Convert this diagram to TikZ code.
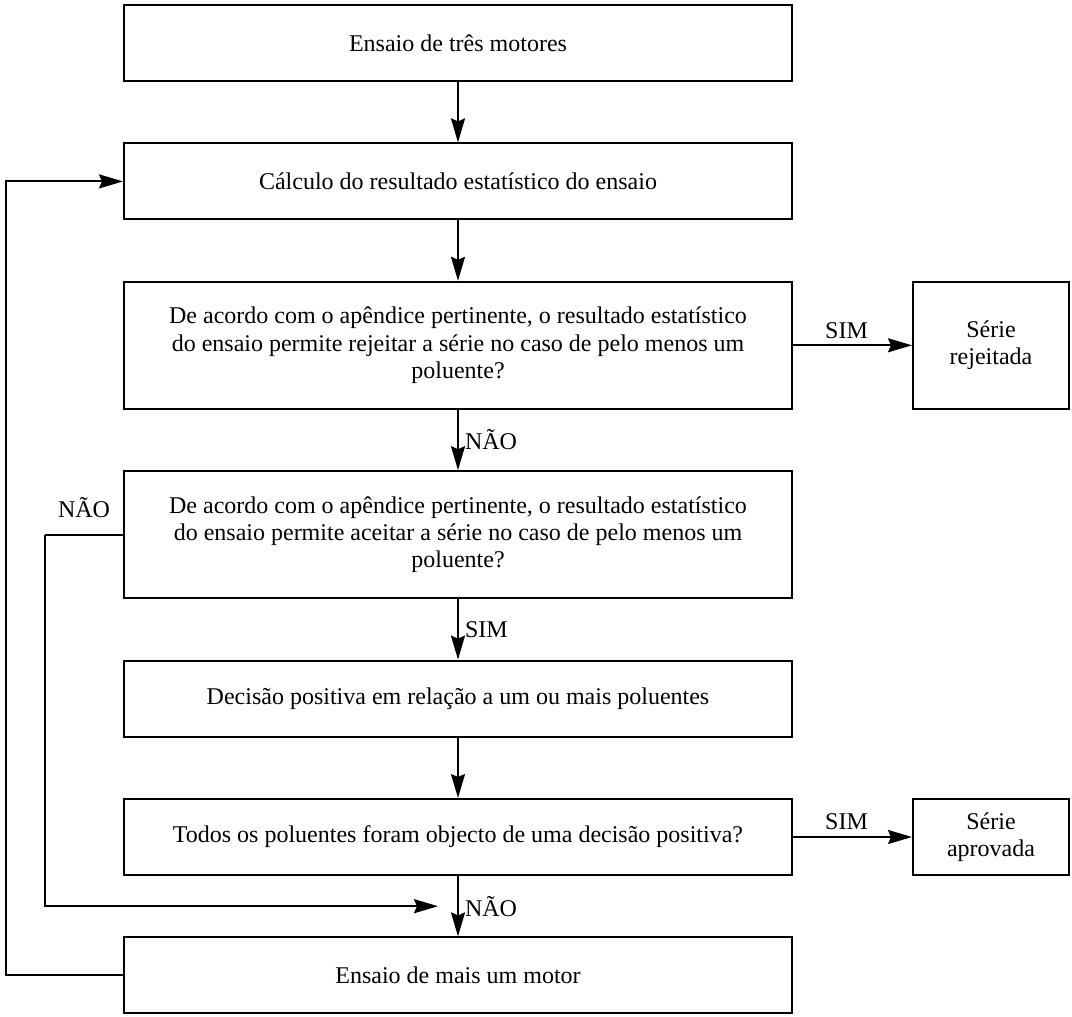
\documentclass[tikz,border=0pt]{standalone}
\usepackage{fontspec}
\setmainfont{Liberation Serif}
\usetikzlibrary{positioning,arrows.meta,calc}

\begin{document}
\begin{tikzpicture}[font=\fontsize{12}{13.7}\selectfont, node distance=30.2pt and 59.5pt,
  box/.style={draw, line width=1pt, align=center, minimum width=334pt, minimum height=38pt, inner sep=2pt},
  tall/.style={box, minimum height=63.5pt},
  side/.style={draw, line width=1pt, align=center, minimum width=78pt},
  arr/.style={line width=1pt, -{Stealth[length=12pt, width=7pt, inset=1.5pt]}},
  lbl/.style={inner sep=3pt}]
\useasboundingbox (0,0) rectangle (536pt,-508.5pt);
\node[box] (b1) at (229pt,-21.5pt) {Ensaio de três motores};
\node[box, below=of b1] (b2) {Cálculo do resultado estatístico do ensaio};
\node[tall, below=of b2] (b3) {De acordo com o apêndice pertinente, o resultado estatístico\\do ensaio permite rejeitar a série no caso de pelo menos um\\poluente?};
\node[tall, below=of b3] (b4) {De acordo com o apêndice pertinente, o resultado estatístico\\do ensaio permite aceitar a série no caso de pelo menos um\\poluente?};
\node[box, below=of b4] (b5) {Decisão positiva em relação a um ou mais poluentes};
\node[box, below=of b5] (b6) {Todos os poluentes foram objecto de uma decisão positiva?};
\node[box, below=of b6] (b7) {Ensaio de mais um motor};
\node[side, minimum height=63.5pt, right=of b3] (rej) {Série\\rejeitada};
\node[side, minimum height=38pt, right=of b6] (apr) {Série\\aprovada};
% main line
\draw[arr] (b1) -- (b2);
\draw[arr] (b2) -- (b3);
\draw[arr] (b3) -- node[lbl, right] {NÃO} (b4);
\draw[arr] (b4) -- node[lbl, right] {SIM} (b5);
\draw[arr] (b5) -- (b6);
\draw[arr] (b6) -- node[lbl, right] {NÃO} (b7);
\draw[arr] (b3) -- node[lbl, above, pos=0.45] {SIM} (rej);
\draw[arr] (b6) -- node[lbl, above, pos=0.45] {SIM} (apr);
% feedback lines
\coordinate (m) at ($(b6.south)!0.5!(b7.north)$);
\coordinate (n) at (22.5pt,0 |- b4.west);
\draw[line width=1pt] (b4.west) -- node[lbl, above=5pt] {NÃO} (n);
\draw[arr] (n) |- ([xshift=-10pt]m);
\draw[arr] (b7.west) -- (3pt,0 |- b7.west) |- (b2.west);
\end{tikzpicture}
\end{document}
